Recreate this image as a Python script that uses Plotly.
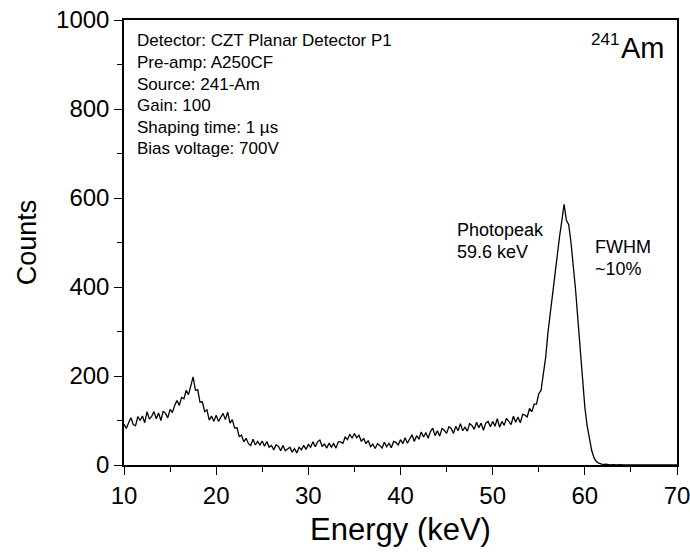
import plotly.graph_objects as go

# Energy axis (keV), 0.25 keV steps from 10 to 70
energy = [10 + 0.25 * i for i in range(241)]

counts = [
    # 10.00 - 14.75
    92, 82, 95, 106, 91, 88, 109, 100, 110, 95, 120, 103, 109, 120, 104, 117, 100, 121, 116, 106,
    # 15.00 - 19.75
    125, 118, 134, 145, 134, 152, 149, 168, 158, 178, 198, 168, 169, 141, 142, 120, 124, 101, 110, 98,
    # 20.00 - 24.75
    112, 98, 107, 116, 102, 119, 94, 102, 83, 84, 64, 67, 52, 60, 48, 44, 58, 45, 53, 45,
    # 25.00 - 29.75
    54, 42, 53, 40, 44, 34, 45, 42, 32, 44, 32, 37, 40, 29, 37, 27, 40, 34, 44, 35,
    # 30.00 - 34.75
    46, 40, 52, 41, 52, 56, 42, 47, 38, 49, 40, 48, 38, 52, 52, 49, 63, 57, 69, 60,
    # 35.00 - 39.75
    71, 61, 67, 53, 60, 48, 55, 41, 47, 37, 48, 44, 38, 51, 41, 49, 39, 53, 51, 45,
    # 40.00 - 44.75
    57, 48, 61, 49, 59, 68, 53, 66, 58, 74, 63, 73, 60, 75, 83, 66, 77, 65, 82, 78,
    # 45.00 - 49.75
    71, 86, 82, 71, 87, 77, 93, 77, 85, 76, 93, 89, 80, 96, 84, 94, 78, 94, 98, 86,
    # 50.00 - 54.75
    98, 87, 104, 85, 98, 89, 105, 99, 91, 110, 96, 108, 95, 114, 112, 108, 127, 120, 137, 137,
    # 55.00 - 59.75
    160, 168, 203, 242, 298, 342, 392, 432, 480, 512, 548, 586, 550, 540, 500, 450, 392, 326, 258, 193,
    # 60.00 - 64.75
    130, 88, 56, 32, 16, 8, 4, 2, 1, 2, 1, 0, 1, 0, 0, 1, 0, 0, 0, 0,
    # 65.00 - 70.00
    0, 0, 0, 0, 0, 0, 0, 0, 0, 0, 0, 0, 0, 0, 0, 0, 0, 0, 0, 0, 0,
]

info_lines = [
    "Detector: CZT Planar Detector P1",
    "Pre-amp: A250CF",
    "Source: 241-Am",
    "Gain: 100",
    "Shaping time: 1 \u00b5s",
    "Bias voltage: 700V",
]

x_ticks = [10, 20, 30, 40, 50, 60, 70]
x_minor = [15, 25, 35, 45, 55, 65]
y_ticks = [0, 200, 400, 600, 800, 1000]
y_minor = [100, 300, 500, 700, 900]

FONT = "Liberation Sans, Arial, sans-serif"
L, R, T, B = 124, 677, 20, 465
W, H = R - L, B - T


def px(xp):
    return (xp - L) / W


def py(yp):
    return (B - yp) / H


fig = go.Figure()
fig.add_trace(go.Scatter(
    x=energy, y=counts, mode="lines",
    line=dict(color="black", width=1.3),
    showlegend=False, hoverinfo="x+y",
))

annotations = []
for i, t in enumerate(info_lines):
    yc = 41 + 21.6 * i
    annotations.append(dict(
        text=t, xref="paper", yref="paper",
        x=px(135), y=py(yc),
        xanchor="left", yanchor="middle", showarrow=False,
        font=dict(family=FONT, size=17, color="black"),
    ))


def lab(text, x, y, size, anchor="left"):
    return dict(text=text, xref="paper", yref="paper", x=px(x), y=py(y),
                xanchor=anchor, yanchor="middle", showarrow=False,
                font=dict(family=FONT, size=size, color="black"))


annotations += [
    lab("Photopeak", 455, 230, 18),
    lab("59.6 keV", 455, 252, 18),
    lab("FWHM", 593, 247, 18),
    lab("~10%", 593, 269, 18),
    lab("Am", 667, 48, 29, "right"),
    lab("241", 621, 39, 17, "right"),
]

axis_common = dict(
    ticks="outside", ticklen=8, tickwidth=1.3, tickcolor="black",
    showline=True, linecolor="black", linewidth=1.5, mirror=True,
    showgrid=False, zeroline=False, automargin=False,
    ticklabeloverflow="allow",
    tickfont=dict(family=FONT, size=24, color="black"),
)

fig.update_layout(
    width=690, height=557,
    margin=dict(l=L, r=690 - R, t=T, b=557 - B),
    paper_bgcolor="white", plot_bgcolor="white",
    font=dict(family=FONT, color="black"),
    annotations=annotations,
    xaxis=dict(
        range=[10, 70], tickvals=x_ticks,
        minor=dict(tickvals=x_minor, ticks="outside", ticklen=5, tickcolor="black"),
        title=dict(text="Energy (keV)", font=dict(family=FONT, size=31, color="black"), standoff=11),
        **axis_common,
    ),
    yaxis=dict(
        range=[0, 1000], tickvals=y_ticks,
        minor=dict(tickvals=y_minor, ticks="outside", ticklen=5, tickcolor="black"),
        title=dict(text="Counts", font=dict(family=FONT, size=27, color="black"), standoff=12),
        **axis_common,
    ),
)

fig.write_html("out.html")
